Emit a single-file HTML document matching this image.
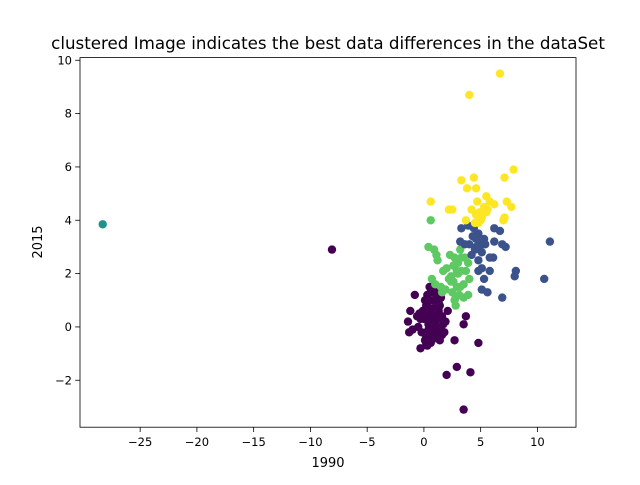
<!DOCTYPE html>
<html><head><meta charset="utf-8"><style>
body{margin:0;background:#fff}
svg text{font-family:"DejaVu Sans","Liberation Sans",sans-serif;fill:#000}
</style></head><body>
<svg width="640" height="480" viewBox="0 0 640 480">
<rect width="640" height="480" fill="#fff"/>
<text x="328" y="49" font-size="16.7" text-anchor="middle">clustered Image indicates the best data differences in the dataSet</text>
<g id="marks"></g>
<rect x="80" y="57.6" width="496" height="369.6" fill="none" stroke="#000" stroke-width="0.8"/>
<g id="xt"></g>
<g id="yt"></g>
<text x="328" y="467" font-size="13" text-anchor="middle">1990</text>
<text x="42" y="242" font-size="13" text-anchor="middle" transform="rotate(-90 42 242)">2015</text>
</svg>
<script>
const xTicks=[-25,-20,-15,-10,-5,0,5,10];
const yTicks=[-2,0,2,4,6,8,10];
const yellowX=[6.7,4.0,7.9,3.3,4.4,3.8,4.6,7.1,5.5,0.6,2.5,2.2,4.7,5.3,6.2,7.3,7.7,4.9,4.6,5.1,4.8,3.7,7.0,7.1,5.5,4.2,5.8,5.6,5.0,4.5];
const yellowY=[9.5,8.7,5.9,5.5,5.6,5.2,5.2,5.6,4.9,4.7,4.4,4.4,4.7,4.5,4.6,4.7,4.5,4.3,4.2,4.1,3.9,4.0,4.0,4.1,4.3,4.4,4.7,4.4,4.0,3.9];
const blueX=[11.1,10.6,8.1,8.0,6.9,5.6,5.1,5.8,5.3,7.2,6.9,6.2,6.7,6.2,6.1,5.8,3.3,3.9,4.4,4.8,5.0,5.1,4.6,4.0,3.6,3.2,4.2,4.8,5.1,4.6,5.3,4.3,4.8,4.5,4.9,5.4];
const blueY=[3.2,1.8,2.1,1.9,1.1,1.3,1.4,2.1,1.8,3.0,3.1,3.7,3.6,3.2,2.6,2.6,3.7,3.8,3.7,3.5,3.2,2.8,3.0,3.1,3.1,3.2,2.7,2.5,2.2,3.3,3.3,3.4,2.1,2.9,3.0,3.1];
const greenX=[0.6,0.4,0.9,1.1,1.2,1.7,0.7,1.0,1.5,3.9,2.7,2.5,2.8,3.2,3.5,3.0,2.6,3.3,3.9,3.2,3.7,2.2,1.9,2.4,2.9,2.7,2.3,4.0,3.5,3.1,3.3,2.6,2.0,2.9,3.6,2.4,1.6,3.0,2.8];
const greenY=[4.0,3.0,2.9,2.7,2.5,2.1,1.8,1.6,1.5,1.2,1.0,1.3,0.8,1.5,1.6,2.0,2.3,2.6,2.4,2.9,2.1,1.8,1.4,1.7,2.1,2.6,2.7,1.8,1.1,1.2,2.1,1.7,2.2,1.5,2.6,1.9,1.3,2.4,1.1];
const purpleX=[-8.1,3.5,4.1,2.9,4.8,2.0,2.7,3.5,3.7,2.1,-0.8,-1.2,-1.4,-1.3,-1.0,-0.3,0.3,0.7,1.4,1.2,0.5,1.0,0.3,0.8,1.3,0.2,0.6,1.1,1.6,0.0,0.4,0.9,1.4,-0.2,0.5,1.0,0.2,-0.5,1.7,0.7,1.5,0.1,-0.4,1.2,0.4,1.8,0.9,-0.1,0.6,1.1,0.3,0.8,1.3,0.0,0.5,1.0,1.5,0.2,0.7,1.2,-0.3,0.4,0.9,1.4,0.1,0.6,1.6,-0.6,0.8,1.9];
const purpleY=[2.9,-3.1,-1.7,-1.5,-0.6,-1.8,-0.5,0.1,0.4,0.6,1.2,0.6,0.2,-0.2,-0.1,-0.8,-0.7,-0.5,-0.5,-0.3,1.5,1.4,1.2,1.0,0.9,0.8,0.6,0.5,0.4,0.3,0.1,0.0,-0.1,-0.2,-0.3,-0.4,-0.6,0.0,0.1,0.3,1.1,1.0,0.5,1.3,-0.1,-0.2,0.7,0.6,1.3,1.1,0.9,0.7,0.6,0.4,0.2,0.2,0.0,-0.4,-0.1,0.3,0.3,0.5,-0.2,0.8,-0.5,-0.6,-0.3,0.4,0.0,0.2];
const tealX=[-28.3];
const tealY=[3.85];
const X0=-30.3,X1=13.4,Y0=-3.76,Y1=10.1;
const sx=v=>80+(v-X0)/(X1-X0)*496;
const sy=v=>427.2-(v-Y0)/(Y1-Y0)*369.6;
const NS="http://www.w3.org/2000/svg";
const marks=document.getElementById('marks');
function draw(xs,ys,color,name){
  xs.forEach((x,i)=>{
    const c=document.createElementNS(NS,'circle');
    c.setAttribute('cx',sx(x));c.setAttribute('cy',sy(ys[i]));
    c.setAttribute('r',4.2);c.setAttribute('fill',color);
    
    
    marks.appendChild(c);
  });
}
draw(purpleX,purpleY,'#440154','point-cluster-purple');
draw(greenX,greenY,'#5ec962','point-cluster-green');
draw(blueX,blueY,'#3b528b','point-cluster-blue');
draw(yellowX,yellowY,'#fde725','point-cluster-yellow');
draw(tealX,tealY,'#21918c','point-cluster-teal');
const xt=document.getElementById('xt');
xTicks.forEach(t=>{
  const x=sx(t);
  const l=document.createElementNS(NS,'line');
  l.setAttribute('x1',x);l.setAttribute('x2',x);l.setAttribute('y1',427.2);l.setAttribute('y2',432);
  l.setAttribute('stroke','#000');l.setAttribute('stroke-width','0.8');
  
  
  xt.appendChild(l);
  const s=document.createElementNS(NS,'text');
  s.setAttribute('x',x);s.setAttribute('y',446);s.setAttribute('font-size','11.5');s.setAttribute('text-anchor','middle');
  s.textContent=(t<0?'\u2212'+(-t):t);
  
  
  xt.appendChild(s);
});
const yt=document.getElementById('yt');
yTicks.forEach(t=>{
  const y=sy(t);
  const l=document.createElementNS(NS,'line');
  l.setAttribute('x1',75.2);l.setAttribute('x2',80);l.setAttribute('y1',y);l.setAttribute('y2',y);
  l.setAttribute('stroke','#000');l.setAttribute('stroke-width','0.8');
  
  
  yt.appendChild(l);
  const s=document.createElementNS(NS,'text');
  s.setAttribute('x',72);s.setAttribute('y',y+4);s.setAttribute('font-size','11.5');s.setAttribute('text-anchor','end');
  s.textContent=(t<0?'\u2212'+(-t):t);
  
  
  yt.appendChild(s);
});
</script>
</body></html>
